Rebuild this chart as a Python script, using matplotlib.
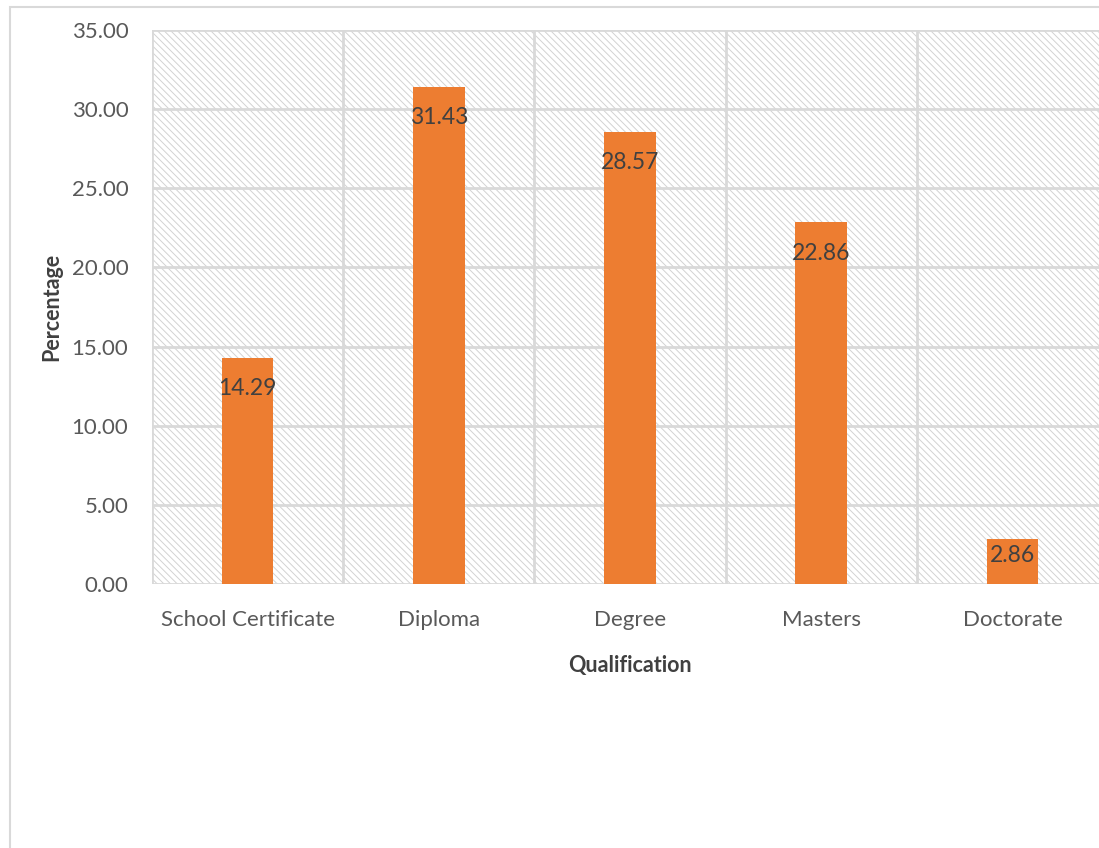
import numpy as np
import matplotlib
matplotlib.use("Agg")
from matplotlib import pyplot as plt
from matplotlib.patches import Rectangle

plt.rcParams['font.family'] = ['Lato', 'DejaVu Sans']
plt.rcParams['hatch.linewidth'] = 0.7

qualifications = ['School Certificate', 'Diploma', 'Degree', 'Masters', 'Doctorate']
percentages = [14.29, 31.43, 28.57, 22.86, 2.86]
yticks = [0, 5, 10, 15, 20, 25, 30, 35]

grid_col = '#d9d9d9'
text_col = '#595959'

fig = plt.figure(figsize=(10.99, 8.48), dpi=100)

# chart frame, runs off the right and bottom edges
fig.patches.append(Rectangle((10 / 1099, -0.05), 1.2, 1 - 7 / 848 + 0.05,
                             transform=fig.transFigure, fill=False,
                             edgecolor=grid_col, linewidth=1.5))

ax = fig.add_axes([152 / 1099, 264 / 848, 956 / 1099, 554 / 848])

# hatched plot area
ax.patch.set_facecolor('white')
ax.patch.set_edgecolor('#d2d2d2')
ax.patch.set_linewidth(0)
ax.patch.set_hatch('\\\\\\\\\\')

x = np.arange(len(qualifications))
ax.bar(x, percentages, width=0.27, color='#ED7D31', zorder=3)

for xi, v in zip(x, percentages):
    ax.text(xi, max(v - 1.95, 1.77), f'{v:.2f}', ha='center', va='center',
            fontsize=16.5, color='#404040', zorder=4)

ax.set_xlim(-0.5, len(qualifications) - 0.5)
ax.set_ylim(0, 35)
ax.set_yticks(yticks)
ax.set_yticklabels([f'{t:.2f}' for t in yticks])
ax.set_xticks(x)
ax.set_xticklabels(qualifications)

# gridlines: horizontal at ticks, vertical between categories
for t in yticks:
    ax.axhline(t, color=grid_col, linewidth=2, zorder=2)
for b in np.arange(-0.5, len(qualifications), 1.0):
    ax.axvline(b, color=grid_col, linewidth=2, zorder=2)

for s in ax.spines.values():
    s.set_visible(False)
ax.tick_params(length=0, labelsize=16, colors=text_col)
ax.tick_params(axis='x', pad=19)
ax.tick_params(axis='y', pad=17)

ax.set_xlabel('Qualification', fontsize=15.5, fontweight='bold', color='#404040', labelpad=18)
ax.set_ylabel('Percentage', fontsize=15.5, fontweight='bold', color='#404040', labelpad=7)

fig.savefig('out.png', dpi=100)
